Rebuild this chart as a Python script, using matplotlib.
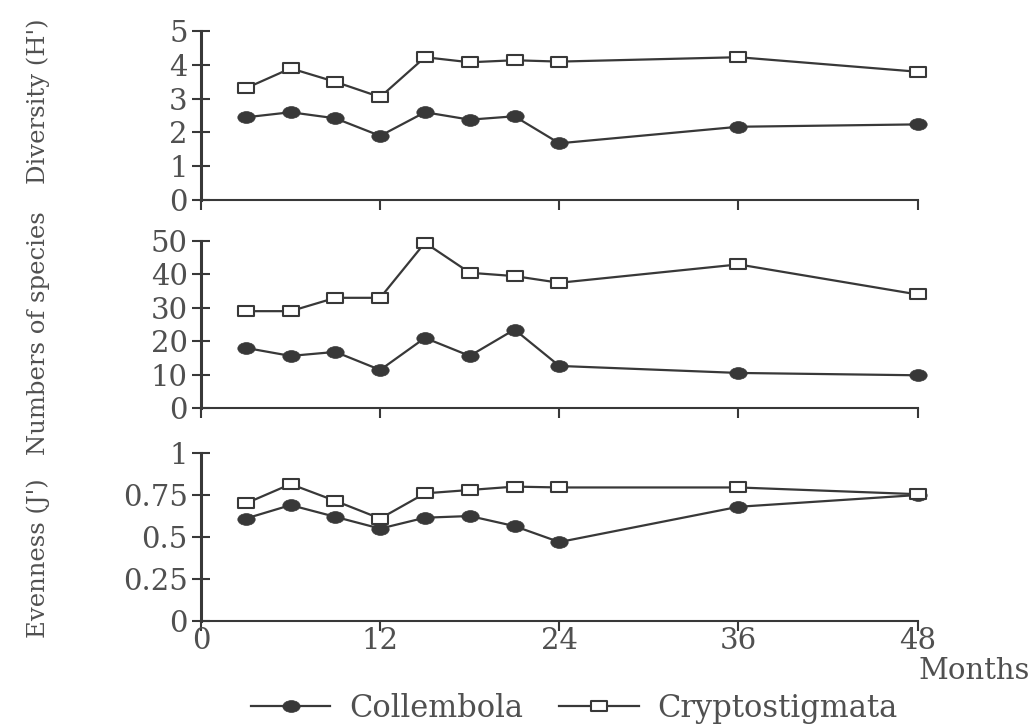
import matplotlib
matplotlib.use("Agg")
import matplotlib.pyplot as plt
from matplotlib.path import Path
from matplotlib.transforms import Affine2D

plt.rcParams['font.family'] = ['DejaVu Serif']

months = [3, 6, 9, 12, 15, 18, 21, 24, 36, 48]

div_coll = [2.45, 2.6, 2.42, 1.9, 2.6, 2.38, 2.48, 1.68, 2.17, 2.24]
div_cryp = [3.31, 3.9, 3.5, 3.05, 4.23, 4.08, 4.14, 4.1, 4.23, 3.8]

sp_coll = [18, 15.6, 16.8, 11.4, 21, 15.6, 23.5, 12.6, 10.5, 9.8]
sp_cryp = [29, 29, 33, 33, 49.5, 40.5, 39.5, 37.5, 43, 34]

ev_coll = [0.61, 0.69, 0.62, 0.55, 0.615, 0.625, 0.565, 0.47, 0.68, 0.75]
ev_cryp = [0.70, 0.815, 0.715, 0.61, 0.76, 0.78, 0.80, 0.795, 0.795, 0.755]

xticks = [0, 12, 24, 36, 48]
yticks_div = [0, 1, 2, 3, 4, 5]
yticks_sp = [0, 10, 20, 30, 40, 50]
yticks_ev = [0, 0.25, 0.5, 0.75, 1]
yticklabels_ev = ['0', '0.25', '0.5', '0.75', '1']

ylabels = ["Diversity (H')", "Numbers of species", "Evenness (J')"]
series_names = ['Collembola', 'Cryptostigmata']

LC = '#383838'
TC = '#505050'
FS = 21

ellipse = Path.unit_circle().transformed(Affine2D().scale(1.0, 0.68))
rect = Path([(-1, -0.65), (1, -0.65), (1, 0.65), (-1, 0.65), (-1, -0.65)],
            [Path.MOVETO, Path.LINETO, Path.LINETO, Path.LINETO, Path.CLOSEPOLY])

fig = plt.figure(figsize=(10.31, 7.26), dpi=100)
L, R = 0.195, 0.890
positions = [(0.7245, 0.957), (0.438, 0.668), (0.1446, 0.376)]
data = [(div_coll, div_cryp, yticks_div, None, (0, 5)),
        (sp_coll, sp_cryp, yticks_sp, None, (0, 50)),
        (ev_coll, ev_cryp, yticks_ev, yticklabels_ev, (0, 1))]

handles = None
for i, ((b, t), (c, k, yt, ytl, ylim)) in enumerate(zip(positions, data)):
    ax = fig.add_axes([L, b, R - L, t - b])
    h1, = ax.plot(months, c, color=LC, lw=1.6, marker=ellipse, ms=12.5,
                  mfc=LC, mec=LC, mew=0.5, clip_on=False, zorder=3)
    h2, = ax.plot(months, k, color=LC, lw=1.6, marker=rect, ms=12,
                  mfc='white', mec=LC, mew=1.5, clip_on=False, zorder=3)
    handles = (h1, h2)
    ax.set_xlim(0, 48)
    ax.set_ylim(*ylim)
    ax.set_yticks(yt)
    if ytl is not None:
        ax.set_yticklabels(ytl)
    ax.set_xticks(xticks)
    for s in ['top', 'right']:
        ax.spines[s].set_visible(False)
    ax.spines['left'].set_linewidth(2.2)
    ax.spines['bottom'].set_linewidth(1.5)
    ax.spines['left'].set_color(LC)
    ax.spines['bottom'].set_color(LC)
    ax.tick_params(axis='y', direction='inout', length=13, width=1.5,
                   colors=LC, labelcolor=TC, labelsize=FS, pad=3)
    ax.tick_params(axis='x', direction='out', length=7, width=1.5,
                   colors=LC, labelcolor=TC, labelsize=FS, pad=-3)
    if i < 2:
        ax.set_xticklabels([])
    ax.patch.set_visible(False)

label_y = [1 - 101 / 726, 1 - 333 / 726, 1 - 558 / 726]
for txt, y in zip(ylabels, label_y):
    fig.text(0.037, y, txt, rotation=90, ha='center', va='center',
             fontsize=17.5, color=TC)

fig.text(0.999, 1 - 671 / 726, 'Months', ha='right', va='center',
         fontsize=21, color=TC)

fig.legend(handles, series_names, loc='center', bbox_to_anchor=(0.557, 0.024),
           ncol=2, frameon=False, fontsize=22, handlelength=2.6,
           handletextpad=0.6, columnspacing=1.2, labelcolor=TC,
           borderpad=0.1)

fig.savefig('out.png', dpi=100)
